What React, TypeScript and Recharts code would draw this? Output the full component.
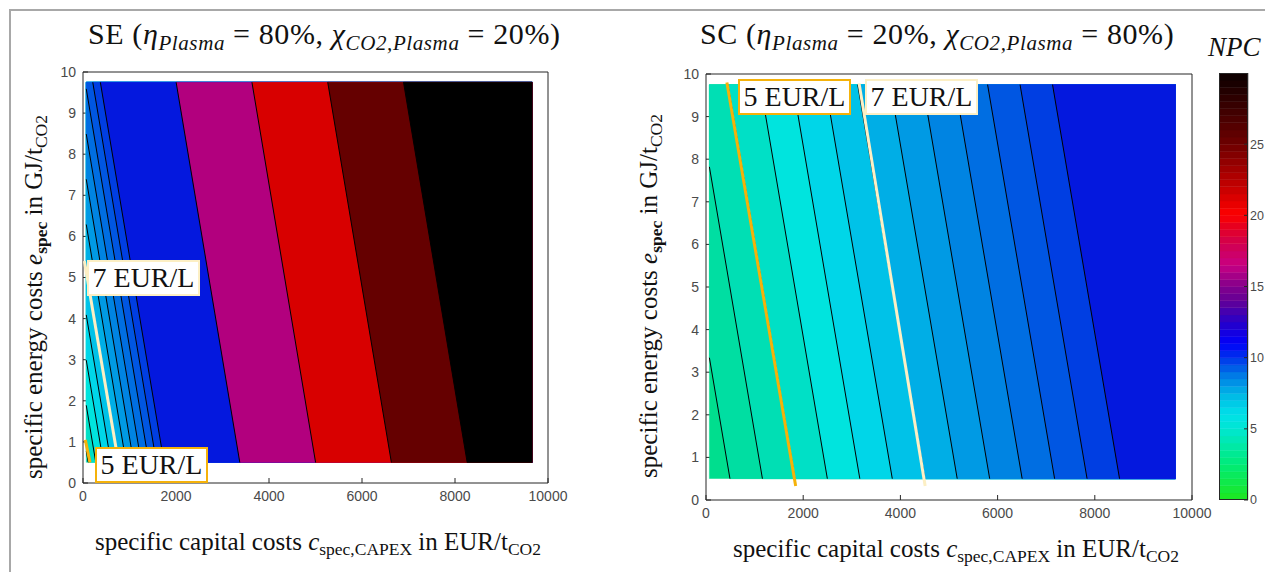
import React from "react";
import { ComposedChart, Scatter, XAxis, YAxis, BarChart, Bar } from "recharts";

const xTicks = [0, 2000, 4000, 6000, 8000, 10000];
const yTicks = [0, 1, 2, 3, 4, 5, 6, 7, 8, 9, 10];
const npcTicks = [0, 5, 10, 15, 20, 25];

// evaluated grid (white margin inside the axes box around it)
const gridX = [70, 9660];
const gridY = [0.5, 9.75];

// SE panel: contour levels (EUR/L) and where each line meets the grid border
const seLevels = [5, 5.5, 6, 6.5, 7, 7.5, 8, 8.5, 9, 9.5, 10, 15, 20, 25, 30];
const seUpperX = [70, 70, 70, 70, 70, 70, 70, 70, 70, 210, 373, 2003, 3633, 5263, 6893];
const seUpperY = [0.78, 1.89, 2.99, 4.09, 5.19, 6.29, 7.39, 8.49, 9.59, 9.75, 9.75, 9.75, 9.75, 9.75, 9.75];
const seLowerX = [112, 275, 438, 601, 764, 927, 1090, 1253, 1416, 1579, 1742, 3372, 5002, 6632, 8262];
const seFirstBand = 4.5;

// SC panel
const scLevels = [4, 4.5, 5, 5.5, 6, 6.5, 7, 7.5, 8, 8.5, 9, 9.5, 10];
const scUpperX = [70, 70, 450, 1118, 1786, 2454, 3122, 3790, 4458, 5126, 5794, 6462, 7130];
const scUpperY = [3.34, 7.82, 9.75, 9.75, 9.75, 9.75, 9.75, 9.75, 9.75, 9.75, 9.75, 9.75, 9.75];
const scLowerX = [493, 1161, 1829, 2497, 3165, 3833, 4501, 5169, 5837, 6505, 7173, 7841, 8509];
const scFirstBand = 3.5;

// highlighted price lines
const se5Line = [{ x: 50, y: 1.05 }, { x: 150, y: 0.5 }];
const se7Line = [{ x: 30, y: 5.4 }, { x: 770, y: 0.45 }];
const sc5Line = [{ x: 430, y: 9.8 }, { x: 1845, y: 0.33 }];
const sc7Line = [{ x: 3150, y: 9.78 }, { x: 4510, y: 0.33 }];

// colour of the band starting at each level
const bandColor: Record<string, string> = {
  "3.5": "#00de8e", "4": "#00dea2", "4.5": "#00dfb4", "5": "#00e0c6", "5.5": "#00e4de",
  "6": "#00d6e8", "6.5": "#00c2e8", "7": "#00aee6", "7.5": "#009ae4", "8": "#0084e2",
  "8.5": "#006ee2", "9": "#0056e2", "9.5": "#003ee2", "10": "#0418de",
  "15": "#b2007e", "20": "#d80000", "25": "#650000", "30": "#000000",
};

// colorbar colour stops
const cmapStops: [number, number[]][] = [
  [0, [30, 230, 30]], [2.5, [0, 235, 120]], [5, [0, 230, 210]], [6, [0, 225, 232]],
  [7.5, [0, 180, 230]], [9, [0, 110, 230]], [10, [0, 50, 235]], [11, [0, 0, 250]],
  [12.5, [40, 0, 200]], [14, [100, 0, 150]], [15, [130, 0, 140]], [16.5, [200, 0, 130]],
  [18, [210, 0, 80]], [19.5, [235, 0, 20]], [20, [255, 0, 0]], [21.5, [210, 0, 0]],
  [25, [110, 0, 0]], [30, [10, 0, 0]],
];

function cmap(v: number) {
  for (let i = 1; i < cmapStops.length; i++) {
    const [v1, c1] = cmapStops[i];
    const [v0, c0] = cmapStops[i - 1];
    if (v <= v1) {
      const t = (v - v0) / (v1 - v0);
      const c = c0.map((a, k) => Math.round(a + (c1[k] - a) * t));
      return `rgb(${c[0]},${c[1]},${c[2]})`;
    }
  }
  return "rgb(10,0,0)";
}

const cbBins = Array.from({ length: 60 }, (_, i) => i * 0.5);
const cbRow: Record<string, number | string> = { name: "NPC" };
cbBins.forEach((_, i) => (cbRow[`b${i}`] = 0.5));

const serif = '"Liberation Serif", "Times New Roman", serif';
const sans = '"Liberation Sans", Arial, sans-serif';
const tickStyle = { fontSize: 14, fill: "#4a4a4a", fontFamily: sans };
const cbTickStyle = { fontSize: 12.5, fill: "#4a4a4a", fontFamily: sans };
const axisStroke = { stroke: "#262626" };
const ORANGE = "#f5b20a";
const CREAM = "#fcefc4";

const noDot = () => null;

type PanelProps = {
  left: number; top: number; w: number; h: number;
  levels: number[]; upperX: number[]; upperY: number[]; lowerX: number[];
  firstBand: number; l5: { x: number; y: number }[]; l7: { x: number; y: number }[];
};

function ContourPanel(p: PanelProps) {
  const [x0, x1] = gridX;
  const [y0, y1] = gridY;
  const base = [{ x: x0, y: y0 }, { x: x0, y: y1 }, { x: x1, y: y1 }, { x: x1, y: y0 }];
  const bands = p.levels.map((lv, i) => {
    const pts = [{ x: p.upperX[i], y: p.upperY[i] }];
    if (p.upperY[i] < y1) pts.push({ x: x0, y: y1 });
    pts.push({ x: x1, y: y1 }, { x: x1, y: y0 }, { x: p.lowerX[i], y: y0 });
    return { lv, pts };
  });
  const lines = p.levels.map((lv, i) => [{ x: p.upperX[i], y: p.upperY[i] }, { x: p.lowerX[i], y: y0 }]);

  return (
    <div style={{ position: "absolute", left: p.left - 50, top: p.top - 10 }}>
      <ComposedChart width={p.w + 81} height={p.h + 40} margin={{ top: 9, right: 30, bottom: 0, left: 0 }}>
        <XAxis type="number" dataKey="x" domain={[0, 10000]} ticks={xTicks} interval={0}
          allowDataOverflow height={30} tickSize={-5} tickMargin={13}
          tick={tickStyle} axisLine={axisStroke} tickLine={axisStroke} />
        <XAxis xAxisId="top" orientation="top" type="number" domain={[0, 10000]} ticks={xTicks}
          allowDataOverflow height={1} tickSize={-5} tick={false} axisLine={axisStroke} tickLine={axisStroke} />
        <YAxis type="number" dataKey="y" domain={[0, 10]} ticks={yTicks} interval={0}
          allowDataOverflow width={50} tickSize={-5} tickMargin={12}
          tick={tickStyle} axisLine={axisStroke} tickLine={axisStroke} />
        <YAxis yAxisId="right" orientation="right" type="number" domain={[0, 10]} ticks={yTicks}
          allowDataOverflow width={1} tickSize={-5} tick={false} axisLine={axisStroke} tickLine={axisStroke} />
        <Scatter data={base} shape={noDot} isAnimationActive={false}
          line={{ fill: bandColor[String(p.firstBand)], stroke: bandColor[String(p.firstBand)], strokeWidth: 0.5 }} />
        {bands.map((b) => (
          <Scatter key={`band${b.lv}`} data={b.pts} shape={noDot} isAnimationActive={false}
            line={{ fill: bandColor[String(b.lv)], stroke: bandColor[String(b.lv)], strokeWidth: 0.5 }} />
        ))}
        {lines.map((l, i) => (
          <Scatter key={`line${i}`} data={l} shape={noDot} isAnimationActive={false}
            line={{ stroke: "#000", strokeWidth: 1, fill: "none" }} />
        ))}
        <Scatter data={p.l7} shape={noDot} isAnimationActive={false}
          line={{ stroke: CREAM, strokeWidth: 3, fill: "none" }} />
        <Scatter data={p.l5} shape={noDot} isAnimationActive={false}
          line={{ stroke: ORANGE, strokeWidth: 3, fill: "none" }} />
      </ComposedChart>
    </div>
  );
}

const sub = { fontSize: "0.7em", verticalAlign: "-0.28em" } as React.CSSProperties;

function Title({ left, name, eta, chi }: { left: number; name: string; eta: string; chi: string }) {
  return (
    <div style={{ position: "absolute", left, top: 19, fontFamily: serif, fontSize: 30, letterSpacing: 0.6, lineHeight: 1, whiteSpace: "nowrap", color: "#111" }}>
      {name} (<i>η</i><i style={sub}>Plasma</i> = {eta}, <i>χ</i><i style={sub}>CO2,Plasma</i> = {chi})
    </div>
  );
}

function XLabel({ left, top }: { left: number; top: number }) {
  return (
    <div style={{ position: "absolute", left, top, fontFamily: serif, fontSize: 25, lineHeight: 1, whiteSpace: "nowrap", color: "#111" }}>
      specific capital costs <i>c</i><span style={sub}>spec,CAPEX</span> in EUR/t<span style={sub}>CO2</span>
    </div>
  );
}

function YLabel({ cx, cy }: { cx: number; cy: number }) {
  return (
    <div style={{ position: "absolute", left: cx, top: cy, transform: "translate(-50%, -50%) rotate(-90deg)", fontFamily: serif, fontSize: 25, lineHeight: 1, whiteSpace: "nowrap", color: "#111" }}>
      specific energy costs <i>e</i><span style={{ ...sub, fontWeight: 600 }}>spec</span> in GJ/t<span style={sub}>CO2</span>
    </div>
  );
}

function PriceTag({ left, top, text, color }: { left: number; top: number; text: string; color: string }) {
  return (
    <div style={{ position: "absolute", left, top, width: 113, height: 36, boxSizing: "border-box", border: `2px solid ${color}`, background: "#fff", fontFamily: serif, fontSize: 28, lineHeight: "32px", textAlign: "center", color: "#111", whiteSpace: "nowrap" }}>
      {text}
    </div>
  );
}

export default function App() {
  return (
    <div style={{ position: "absolute", left: 0, top: 0, width: 1265, height: 572, background: "#fff", overflow: "hidden" }}>
      <div style={{ position: "absolute", left: 9, top: 9, width: 1300, height: 600, borderTop: "2px solid #a8a8a8", borderLeft: "2px solid #a8a8a8" }} />

      <Title left={88} name="SE" eta="80%" chi="20%" />
      <Title left={700} name="SC" eta="20%" chi="80%" />

      <ContourPanel left={83} top={72} w={465} h={411} levels={seLevels} upperX={seUpperX} upperY={seUpperY}
        lowerX={seLowerX} firstBand={seFirstBand} l5={se5Line} l7={se7Line} />
      <ContourPanel left={706} top={74} w={486} h={426} levels={scLevels} upperX={scUpperX} upperY={scUpperY}
        lowerX={scLowerX} firstBand={scFirstBand} l5={sc5Line} l7={sc7Line} />

      <PriceTag left={87} top={260} text="7 EUR/L" color={CREAM} />
      <PriceTag left={95} top={447} text="5 EUR/L" color={ORANGE} />
      <PriceTag left={738} top={79} text="5 EUR/L" color={ORANGE} />
      <PriceTag left={865} top={79} text="7 EUR/L" color={CREAM} />

      <XLabel left={95} top={529} />
      <XLabel left={733} top={536} />
      <YLabel cx={36} cy={297} />
      <YLabel cx={651} cy={296} />

      <div style={{ position: "absolute", left: 1208, top: 34, fontFamily: serif, fontStyle: "italic", fontSize: 27, lineHeight: 1, color: "#111" }}>NPC</div>

      <div style={{ position: "absolute", left: 1219, top: 73 }}>
        <BarChart width={46} height={441} data={[cbRow]} margin={{ top: 0, right: 0, bottom: 14, left: 0 }} barCategoryGap={0} barGap={0}>
          <XAxis dataKey="name" hide />
          <YAxis orientation="right" type="number" domain={[0, 30]} ticks={npcTicks} interval={0} allowDataOverflow
            width={17} tickSize={-4} tickMargin={6} tick={cbTickStyle} axisLine={false} tickLine={axisStroke} />
          {cbBins.map((v, i) => (
            <Bar key={i} dataKey={`b${i}`} stackId="cb" fill={cmap(v + 0.25)} stroke={cmap(v + 0.25)} strokeWidth={0.5} isAnimationActive={false} />
          ))}
        </BarChart>
      </div>
      <div style={{ position: "absolute", left: 1219, top: 73, width: 29, height: 427, boxSizing: "border-box", border: "1px solid #262626", pointerEvents: "none" }} />
    </div>
  );
}
